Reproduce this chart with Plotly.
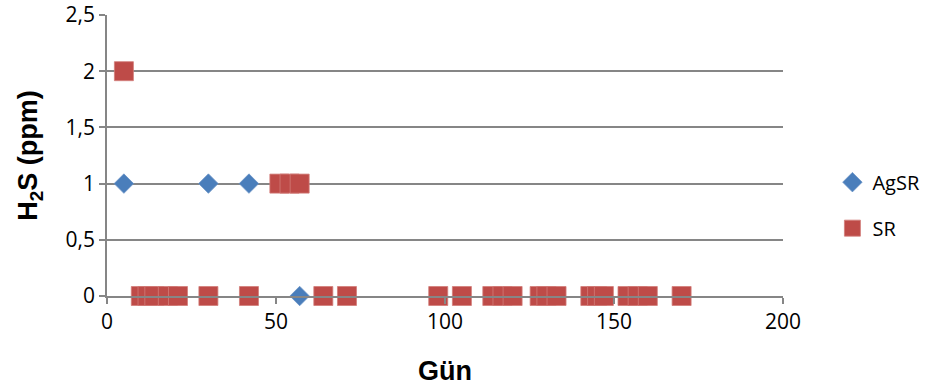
import plotly.graph_objects as go

# H2S measurements over days
agsr_day = [5, 30, 42, 57]
agsr_h2s = [1, 1, 1, 0]

sr_day = [5, 51, 54, 57, 10, 12, 14, 18, 21, 30, 42, 64, 71, 98, 105,
          114, 117, 120, 128, 130, 133, 143, 145, 147, 154, 157, 160, 170]
sr_h2s = [2, 1, 1, 1, 0, 0, 0, 0, 0, 0, 0, 0, 0, 0, 0,
          0, 0, 0, 0, 0, 0, 0, 0, 0, 0, 0, 0, 0]

x_ticks = [0, 50, 100, 150, 200]
y_ticks = [0, 0.5, 1, 1.5, 2, 2.5]

BLUE = "#4A7EBB"
RED = "#BE4B48"
GRID = "#868686"
LABEL_FONT = "Open Sans"
TITLE_FONT = dict(family="Liberation Sans", size=27, color="#000", weight="bold")

fig = go.Figure()
fig.add_trace(go.Scatter(
    x=agsr_day, y=agsr_h2s, mode="markers", name="AgSR",
    legendgroup="a", cliponaxis=False,
    marker=dict(symbol="diamond", size=15, color=BLUE,
                line=dict(width=0.8, color="#6D95C8")),
))
fig.add_trace(go.Scatter(
    x=sr_day, y=sr_h2s, mode="markers", name="SR",
    legendgroup="b", cliponaxis=False,
    marker=dict(symbol="square", size=19, color=RED,
                line=dict(width=0.8, color="#D27C79")),
))

fig.update_layout(
    width=928, height=390,
    margin=dict(l=107, r=145, t=15, b=94, autoexpand=False),
    paper_bgcolor="white", plot_bgcolor="white",
    separators=",.",
    showlegend=True,
    legend=dict(xref="container", yref="container",
                x=0.897, y=0.474, xanchor="left", yanchor="middle",
                font=dict(family=LABEL_FONT, size=20, color="#000"),
                tracegroupgap=17, bgcolor="rgba(0,0,0,0)"),
    xaxis=dict(
        range=[0, 200], tickvals=x_ticks, showgrid=False, zeroline=False,
        showline=True, linecolor=GRID, linewidth=1.5, automargin=False,
        ticks="outside", ticklen=6, tickcolor=GRID, tickwidth=1.5,
        tickfont=dict(family=LABEL_FONT, size=21, color="#000"),
        title=dict(text="Gün", standoff=27, font=TITLE_FONT),
    ),
    yaxis=dict(
        range=[0, 2.5], tickvals=y_ticks, showgrid=True, gridcolor=GRID, gridwidth=1.5,
        zeroline=False, showline=True, linecolor=GRID, linewidth=1.5, automargin=False,
        ticks="outside", ticklen=6, tickcolor=GRID, tickwidth=1.5,
        tickfont=dict(family=LABEL_FONT, size=21, color="#000"),
        title=dict(text="H<sub>2</sub>S (ppm)", standoff=20, font=TITLE_FONT),
    ),
)

fig.write_html("out.html")
